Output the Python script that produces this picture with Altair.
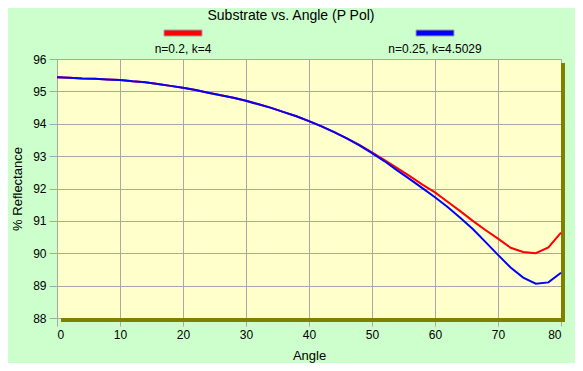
import altair as alt
import pandas as pd

# ---- data ----
angles = list(range(0, 82, 2))
red_vals = [95.44, 95.42, 95.40, 95.39, 95.37, 95.35, 95.31, 95.28, 95.23, 95.17,
            95.11, 95.04, 94.96, 94.88, 94.80, 94.71, 94.60, 94.49, 94.36, 94.23,
            94.08, 93.92, 93.74, 93.55, 93.35, 93.12, 92.88, 92.63, 92.38, 92.12,
            91.88, 91.59, 91.30, 91.00, 90.72, 90.45, 90.17, 90.04, 90.00, 90.18,
            90.64]
blue_vals = [95.44, 95.42, 95.40, 95.39, 95.37, 95.35, 95.31, 95.28, 95.23, 95.17,
             95.11, 95.04, 94.96, 94.88, 94.80, 94.71, 94.60, 94.49, 94.36, 94.23,
             94.08, 93.92, 93.74, 93.55, 93.33, 93.09, 92.84, 92.56, 92.29, 92.01,
             91.73, 91.43, 91.10, 90.75, 90.35, 89.95, 89.56, 89.25, 89.06, 89.10,
             89.40]
series_names = ["n=0.2, k=4", "n=0.25, k=4.5029"]
series_colors = ["#FF0000", "#0000FF"]
x_ticks = list(range(0, 90, 10))
y_ticks = list(range(88, 97, 1))
chart_title = ["Substrate vs. Angle (P Pol)"]

W, H = 504, 259
FONT = "Liberation Sans"

rows = []
for a, r, b in zip(angles, red_vals, blue_vals):
    rows.append({"Angle": a, "Reflectance": r, "series": series_names[0]})
    rows.append({"Angle": a, "Reflectance": b, "series": series_names[1]})
df = pd.DataFrame(rows)

lines = alt.Chart(df).mark_line(strokeWidth=2).encode(
    x=alt.X("Angle:Q", scale=alt.Scale(domain=[0, 80], nice=False),
            axis=alt.Axis(values=x_ticks, title="Angle", titleY=37,
                          titleBaseline="middle", titleFontWeight="normal")),
    y=alt.Y("Reflectance:Q", scale=alt.Scale(domain=[88, 96], nice=False, zero=False),
            axis=alt.Axis(values=y_ticks, title="% Reflectance", titleX=-40,
                          titleY=H / 2, titleAngle=-90, titleAlign="center",
                          titleBaseline="middle", titleFontWeight="normal")),
    color=alt.Color("series:N", scale=alt.Scale(domain=series_names, range=series_colors),
                    legend=None),
    detail="series:N",
)

one = pd.DataFrame({"k": [0]})
shadow_bottom = alt.Chart(one).mark_rect(color="#808000").encode(
    x=alt.value(4), x2=alt.value(W + 4), y=alt.value(H), y2=alt.value(H + 4))
shadow_right = alt.Chart(one).mark_rect(color="#808000").encode(
    x=alt.value(W), x2=alt.value(W + 4), y=alt.value(4), y2=alt.value(H + 4))

title_mark = alt.Chart(pd.DataFrame({"t": chart_title})).mark_text(
    font=FONT, fontSize=14, color="#000000", align="center", baseline="alphabetic"
).encode(x=alt.value(234), y=alt.value(-39), text="t:N")

legend_layers = []
for i, (name, col) in enumerate(zip(series_names, series_colors)):
    cx = W * (1 + 2 * i) / 4
    ldf = pd.DataFrame({"label": [name]})
    sw = alt.Chart(ldf).mark_rect(color=col, stroke="#A0A0A0", strokeWidth=1).encode(
        x=alt.value(cx - 19), x2=alt.value(cx + 19), y=alt.value(-29), y2=alt.value(-23))
    tx = alt.Chart(ldf).mark_text(font=FONT, fontSize=12, color="#000000",
                                  align="center", baseline="middle").encode(
        x=alt.value(cx), y=alt.value(-10), text="label:N")
    legend_layers += [sw, tx]

chart = alt.layer(shadow_bottom, shadow_right, lines, title_mark, *legend_layers).properties(
    width=W, height=H,
    autosize=alt.AutoSizeParams(type="none"),
    padding={"left": 49, "top": 51, "right": 14, "bottom": 45},
    background="#CCFFCC",
).configure_view(fill="#FFFFCC", stroke=None).configure_axis(
    grid=True, gridColor="#A8A8A8", gridWidth=1, domain=False,
    tickColor="#A8A8A8", tickSize=8, labelPadding=3,
    labelFont=FONT, labelFontSize=12, labelColor="#000000",
    titleFont=FONT, titleFontSize=13, titleColor="#000000",
)

chart.save("out.html", embed_options={"renderer": "svg", "actions": False})
